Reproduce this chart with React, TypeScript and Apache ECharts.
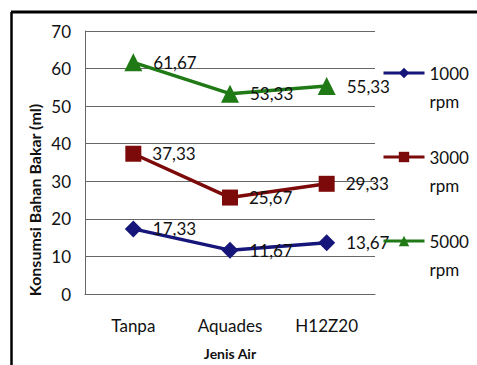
import React, { useEffect, useRef } from "react";
import * as echarts from "echarts";

const categories = ["Tanpa", "Aquades", "H12Z20"];
const rpm1000 = [17.33, 11.67, 13.67];
const rpm3000 = [37.33, 25.67, 29.33];
const rpm5000 = [61.67, 53.33, 55.33];
const seriesNames = ["1000", "3000", "5000"];
const yMin = 0;
const yMax = 70;
const yInterval = 10;

const FONT = "Lato";

export default function App() {
  const ref = useRef<HTMLDivElement>(null);
  useEffect(() => {
    if (!ref.current) return;
    const chart = echarts.init(ref.current, null, { renderer: "svg" });
    const fmt = (p: any) => Number(p.value).toFixed(2).replace(".", ",");
    const mk = (name: string, data: number[], color: string, symbol: string, size: number) => ({
      name,
      type: "line",
      data,
      symbol,
      symbolSize: size,
      lineStyle: { color, width: 3.5 },
      itemStyle: { color },
      label: {
        show: true,
        position: "right",
        distance: 11,
        formatter: fmt,
        fontFamily: FONT,
        fontSize: 17,
        color: "#111",
      },
    });
    chart.setOption({
      animation: false,
      backgroundColor: "#fff",
      textStyle: { fontFamily: FONT },
      grid: { left: 85, top: 31, right: 102, bottom: 62, containLabel: false },
      legend: {
        orient: "vertical",
        left: 382,
        top: 31,
        padding: 0,
        itemGap: 0,
        itemWidth: 41,
        itemHeight: 13,
        data: seriesNames,
        formatter: (n: string) => " \n" + n + "\nrpm",
        lineStyle: { width: 3 },
        textStyle: {
          fontFamily: FONT,
          fontSize: 17,
          color: "#111",
          lineHeight: 28,
        },
      },
      xAxis: {
        type: "category",
        data: categories,
        boundaryGap: true,
        name: "Jenis Air",
        nameLocation: "middle",
        nameGap: 52,
        nameTextStyle: { fontFamily: FONT, fontSize: 14, fontWeight: "bold", color: "#111" },
        axisLine: { show: true, lineStyle: { color: "#666", width: 1 } },
        axisTick: { show: false },
        axisLabel: { fontFamily: FONT, fontSize: 17, color: "#111", margin: 23 },
      },
      yAxis: {
        type: "value",
        min: yMin,
        max: yMax,
        interval: yInterval,
        axisLine: { show: true, lineStyle: { color: "#666", width: 1 } },
        axisTick: { show: false },
        axisLabel: { fontFamily: FONT, fontSize: 17, color: "#111", margin: 14 },
        splitLine: { show: true, lineStyle: { color: "#666", width: 1 } },
      },
      graphic: [
        {
          type: "text",
          x: 34,
          y: 200,
          rotation: Math.PI / 2,
          style: {
            text: "Konsumsi Bahan Bakar (ml)",
            fontFamily: FONT,
            fontSize: 16,
            fontWeight: "bold",
            fill: "#111",
            align: "center",
            verticalAlign: "middle",
          },
        },
        {
          type: "line",
          shape: { x1: 11, y1: 12, x2: 477, y2: 12 },
          style: { stroke: "#000", lineWidth: 3 },
        },
        {
          type: "line",
          shape: { x1: 11.5, y1: 12, x2: 11.5, y2: 365 },
          style: { stroke: "#000", lineWidth: 2.5 },
        },
      ],
      series: [
        mk(seriesNames[0], rpm1000, "#15157a", "diamond", 17),
        mk(seriesNames[1], rpm3000, "#7d0a0a", "rect", 16),
        mk(seriesNames[2], rpm5000, "#1f7a16", "triangle", 18),
      ],
    });
    return () => chart.dispose();
  }, []);
  return (
    <div
      ref={ref}
      style={{ position: "absolute", left: 0, top: 0, width: 477, height: 365 }}
    />
  );
}
